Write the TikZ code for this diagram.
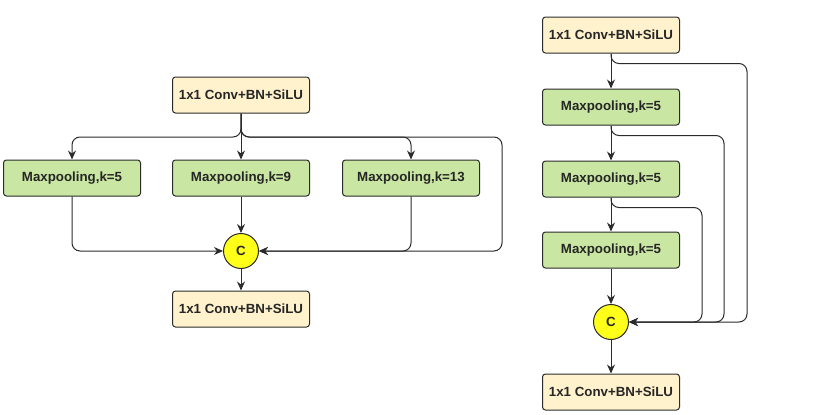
\documentclass[tikz,border=0pt]{standalone}
\usepackage{fontspec}
\setmainfont{Liberation Sans}
\usetikzlibrary{arrows.meta}
\definecolor{convfill}{HTML}{FFF2CC}
\definecolor{poolfill}{HTML}{C9E6A2}
\definecolor{catfill}{HTML}{FFFF1A}
\definecolor{edge}{HTML}{2B2B2B}
\begin{document}
\begin{tikzpicture}[x=1pt, y=-1pt,
        every node/.style={font=\fontsize{13.3}{15}\selectfont\bfseries, text=black!85},
        conv/.style={draw=edge, line width=1pt, rounded corners=3pt, fill=convfill, minimum width=137pt, minimum height=36pt, inner sep=0pt},
        pool/.style={conv, fill=poolfill},
        cat/.style={circle, draw=edge, line width=1pt, fill=catfill, minimum size=35pt, inner sep=0pt},
        arr/.style={draw=edge, line width=1pt, rounded corners=8pt, -{Stealth[length=9pt,width=8pt]}}]
        \useasboundingbox (0,0) rectangle (815,415);
        % parallel pooling
        \node[conv] (conv1) at (241,95) {1x1 Conv+BN+SiLU};
        \node[pool] (mp5) at (72,178) {Maxpooling,k=5};
        \node[pool] (mp9) at (241,178) {Maxpooling,k=9};
        \node[pool] (mp13) at (411,178) {Maxpooling,k=13};
        \node[cat] (cat) at (241,251) {C};
        \node[conv] (conv2) at (241,309) {1x1 Conv+BN+SiLU};
        \coordinate (fork) at (241,137);
        \coordinate (outer) at (502,137);
        \draw[arr] (conv1.south) -- (mp9.north);
        \draw[arr] (conv1.south) -- (fork) -| (mp5.north);
        \draw[arr] (conv1.south) -- (fork) -| (mp13.north);
        \draw[arr] (conv1.south) -- (fork) -- (outer) |- (cat.east);
        \draw[arr] (mp5.south) |- (cat.west);
        \draw[arr] (mp9.south) -- (cat.north);
        \draw[arr] (mp13.south) |- (cat.east);
        \draw[arr] (cat.south) -- (conv2.north);
        % serial pooling
        \node[conv] (rconv1) at (611,35) {1x1 Conv+BN+SiLU};
        \node[pool] (rmp1) at (611,107) {Maxpooling,k=5};
        \node[pool] (rmp2) at (611,179) {Maxpooling,k=5};
        \node[pool] (rmp3) at (611,250) {Maxpooling,k=5};
        \node[cat] (rcat) at (611,322) {C};
        \node[conv] (rconv2) at (611,392) {1x1 Conv+BN+SiLU};
        \foreach \a/\b in {rconv1/rmp1, rmp1/rmp2, rmp2/rmp3, rmp3/rcat, rcat/rconv2} {
            \draw[arr] (\a.south) -- (\b.north);
        }
        \foreach \s/\x in {rconv1/747, rmp1/724, rmp2/702} {
            \draw[arr] (\s.south) -- ++(0,10) -| (\x,322) -- (rcat.east);
        }
    \end{tikzpicture}
\end{document}
